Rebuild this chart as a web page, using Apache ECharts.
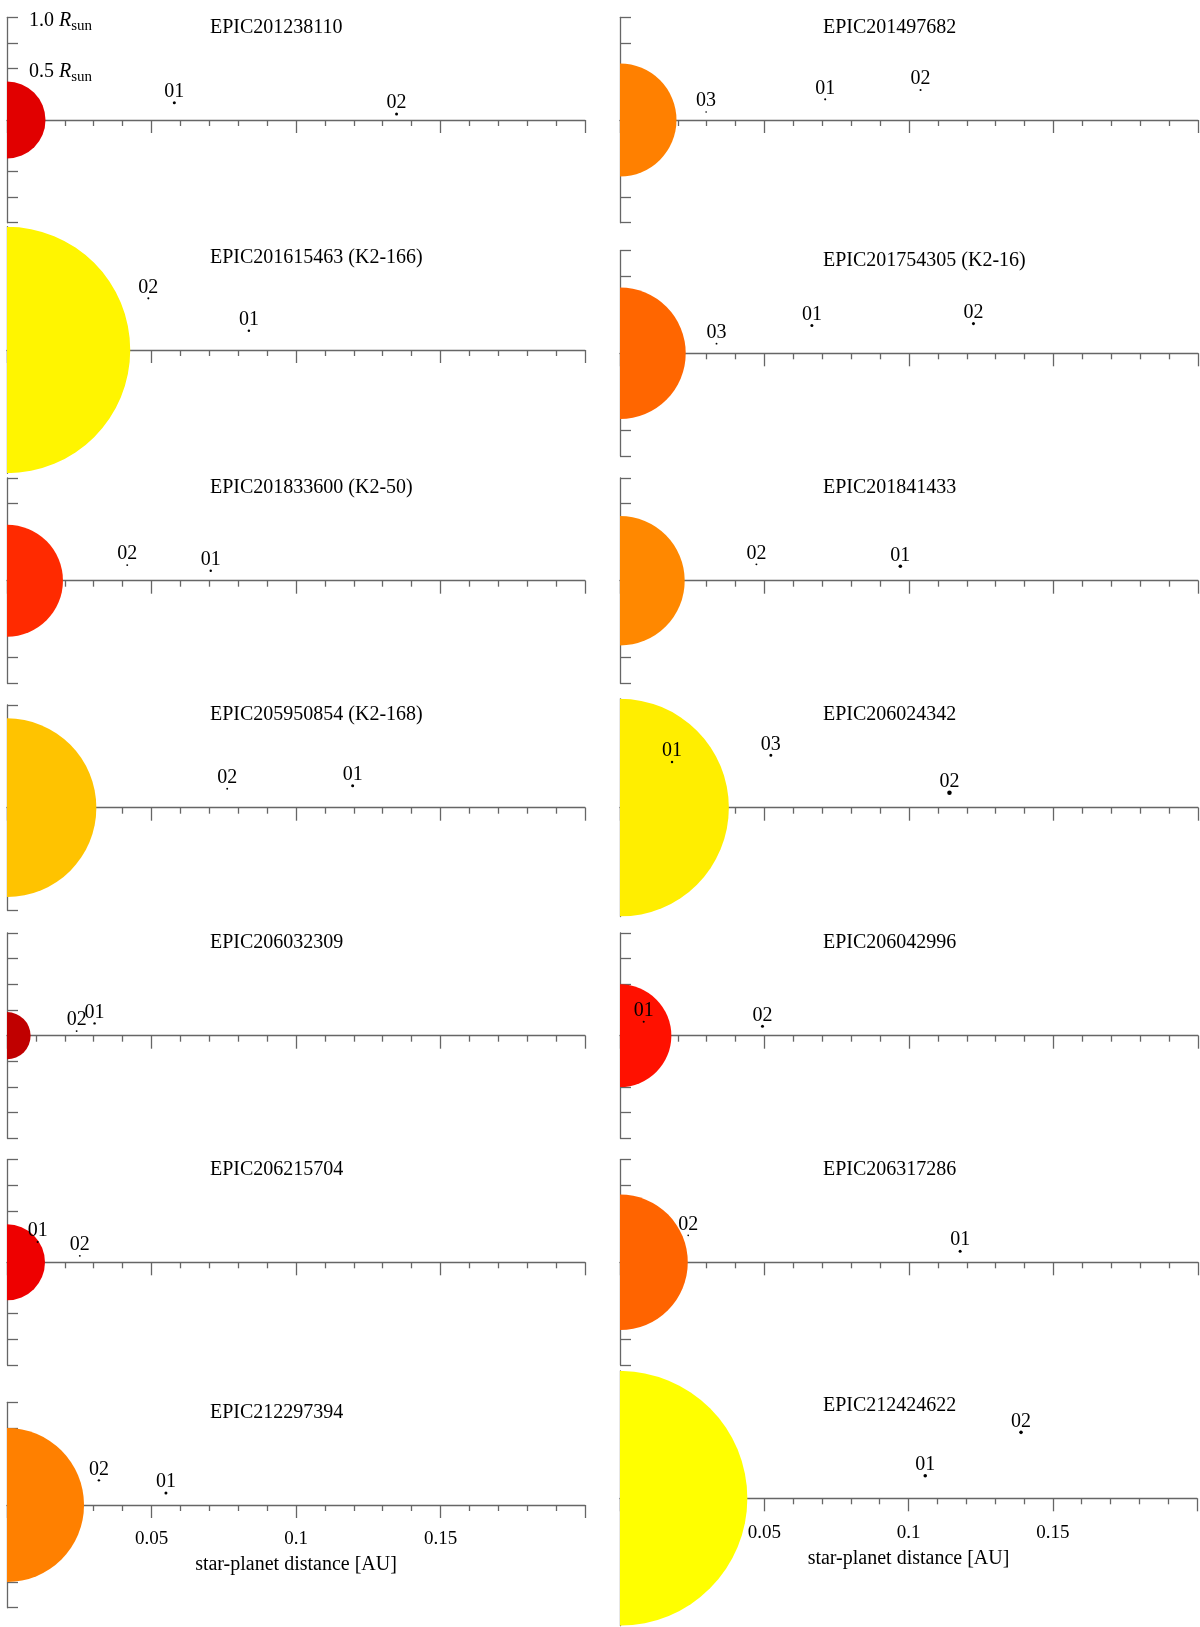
<!DOCTYPE html>
<html>
<head>
<meta charset="utf-8">
<script src="https://cdn.jsdelivr.net/npm/echarts@6/dist/echarts.min.js"></script>
<style>
  html, body { margin: 0; padding: 0; background: #fff; }
  #chart { width: 1200px; height: 1627px; }
</style>
</head>
<body>
<div id="chart"></div>
<script>
// one panel per star
var stars = ['EPIC201238110', 'EPIC201497682', 'EPIC201615463 (K2-166)', 'EPIC201754305 (K2-16)',
  'EPIC201833600 (K2-50)', 'EPIC201841433', 'EPIC205950854 (K2-168)', 'EPIC206024342',
  'EPIC206032309', 'EPIC206042996', 'EPIC206215704', 'EPIC206317286',
  'EPIC212297394', 'EPIC212424622'];
// stellar radius [R_sun]
var starRadius = [0.375, 0.55, 1.2, 0.64, 0.545, 0.63, 0.87, 1.06, 0.23, 0.50, 0.37, 0.66, 0.75, 1.24];

var planetNames = [['01', '02'], ['03', '01', '02'], ['02', '01'], ['03', '01', '02'],
  ['02', '01'], ['02', '01'], ['02', '01'], ['01', '03', '02'],
  ['02', '01'], ['01', '02'], ['01', '02'], ['02', '01'],
  ['02', '01'], ['01', '02']];
// star-planet distance [AU]
var planetDist = [[0.0579, 0.1348], [0.0298, 0.0710, 0.1040], [0.0489, 0.0837], [0.0334, 0.0664, 0.1223],
  [0.0416, 0.0705], [0.0472, 0.0970], [0.0762, 0.1196], [0.0180, 0.0522, 0.1140],
  [0.0241, 0.0303], [0.0082, 0.0493], [0.0106, 0.0252], [0.0236, 0.1177],
  [0.0318, 0.0550], [0.1058, 0.1390]];
// vertical offset on the stellar disc [R_sun]
var planetHeight = [[0.169, 0.058], [0.078, 0.201, 0.292], [0.503, 0.188], [0.094, 0.27, 0.289],
  [0.152, 0.097], [0.159, 0.14], [0.185, 0.214], [0.445, 0.51, 0.145],
  [0.045, 0.12], [0.136, 0.091], [0.198, 0.063], [0.262, 0.108],
  [0.24, 0.117], [0.22, 0.642]];
// planet radius [R_earth]
var planetRadius = [[1.6, 1.6], [0.8, 1.1, 1.1], [1.1, 1.3], [1.0, 1.6, 1.6],
  [1.0, 1.3], [1.0, 1.9], [1.0, 1.6], [1.3, 1.6, 2.4],
  [1.0, 1.3], [1.1, 1.6], [1.1, 1.0], [0.8, 1.6],
  [1.3, 1.6], [1.9, 1.9]];

var xTickLabels = [0.05, 0.1, 0.15];
var yTicks = [-1, -0.75, -0.5, -0.25, 0, 0.25, 0.5, 0.75, 1];
var yTickLabels = [0.5, 1.0];

// colours and layout
var starColors = ['#e10000', '#ff8000', '#fff500', '#ff6600', '#ff2a00', '#ff8800', '#ffc300',
  '#ffee00', '#c00000', '#ff1100', '#ee0000', '#ff6400', '#ff8000', '#ffff00'];
var axisRow = [120, 120, 350, 353.3, 580.7, 580.7, 807.7, 807.7, 1035.7, 1035.7, 1262.3, 1262.3, 1505, 1498.3];
var PX_PER_RSUN = 102.7;
var REARTH = 0.009168; // R_earth in R_sun
var AXIS = '#666';
var FONT = 'Liberation Serif';

var grids = [], xAxes = [], yAxes = [], titles = [], series = [];

stars.forEach(function (name, i) {
    var col = i % 2;
    var ymax = Math.max(1, starRadius[i]);
    var left = col ? 620 : 7;
    var isBottom = i >= 12;
    var lineStyle = {color: AXIS, width: 1.3};

    grids.push({
        left: left,
        top: axisRow[i] - ymax * PX_PER_RSUN,
        width: 578,
        height: 2 * ymax * PX_PER_RSUN,
        containLabel: false
    });
    // x axis sits on y = 0, in the middle of the panel
    xAxes.push({
        type: 'value', gridIndex: i, min: 0, max: 0.2, interval: 0.05,
        position: 'bottom',
        offset: -ymax * PX_PER_RSUN,
        axisLine: {onZero: false, lineStyle: lineStyle},
        axisTick: {length: 13, lineStyle: lineStyle},
        minorTick: {show: true, splitNumber: 5, length: 6, lineStyle: lineStyle},
        splitLine: {show: false},
        minorSplitLine: {show: false},
        axisLabel: {
            show: isBottom,
            margin: 25,
            formatter: function (v) {
                return xTickLabels.indexOf(+v.toFixed(2)) >= 0 ? String(+v.toFixed(2)) : '';
            },
            fontFamily: FONT, fontSize: 19, color: '#000'
        },
        name: isBottom ? 'star-planet distance [AU]' : '',
        nameLocation: 'middle',
        nameGap: 50,
        nameTextStyle: {fontFamily: FONT, fontSize: 20, color: '#000'}
    });
    yAxes.push({
        type: 'value', gridIndex: i, min: -ymax, max: ymax,
        axisLine: {onZero: false, lineStyle: lineStyle},
        axisTick: {inside: true, length: 11, customValues: yTicks, lineStyle: lineStyle},
        splitLine: {show: false},
        axisLabel: {
            show: i === 0, inside: true, margin: 22, customValues: yTickLabels,
            padding: [6, 0, 0, 0],
            formatter: function (v) { return v.toFixed(1) + ' {i|R}{s|sun}'; },
            fontFamily: FONT, fontSize: 20, color: '#000', lineHeight: 26,
            rich: {
                i: {fontFamily: FONT, fontSize: 20, fontStyle: 'italic', color: '#000', lineHeight: 26},
                s: {fontFamily: FONT, fontSize: 15, color: '#000', lineHeight: 15, verticalAlign: 'bottom'}
            }
        }
    });
    titles.push({
        text: name,
        left: left + 203,
        top: axisRow[i] - 87 - 15.5,
        padding: 0,
        textStyle: {fontFamily: FONT, fontSize: 20, fontWeight: 'normal', color: '#000'}
    });

    // the star, centred on the origin, clipped by the plot area
    series.push({
        type: 'custom', xAxisIndex: i, yAxisIndex: i, clip: true, silent: true,
        data: [[0, 0, starRadius[i]]],
        renderItem: function (params, api) {
            var c = api.coord([api.value(0), api.value(1)]);
            var r = api.size([0, api.value(2)])[1];
            return {type: 'circle', shape: {cx: c[0], cy: c[1], r: r}, style: {fill: starColors[i]}};
        }
    });

    // planets
    series.push({
        type: 'custom', xAxisIndex: i, yAxisIndex: i, clip: true, silent: true,
        data: planetDist[i].map(function (d, j) {
            return [d, planetHeight[i][j], planetRadius[i][j] * REARTH];
        }),
        renderItem: function (params, api) {
            var p = api.coord([api.value(0), api.value(1)]);
            var r = Math.max(api.size([0, api.value(2)])[1], 0.8);
            return {
                type: 'group',
                children: [
                    {type: 'circle', shape: {cx: p[0], cy: p[1], r: r}, style: {fill: '#000'}},
                    {
                        type: 'text', x: p[0], y: p[1] - 1,
                        style: {
                            text: planetNames[i][params.dataIndex],
                            align: 'center', verticalAlign: 'bottom',
                            fontFamily: FONT, fontSize: 20, fill: '#000'
                        }
                    }
                ]
            };
        }
    });
});

var chart = echarts.init(document.getElementById('chart'));
chart.setOption({
    animation: false,
    backgroundColor: '#fff',
    title: titles,
    grid: grids,
    xAxis: xAxes,
    yAxis: yAxes,
    series: series
});
</script>
</body>
</html>
